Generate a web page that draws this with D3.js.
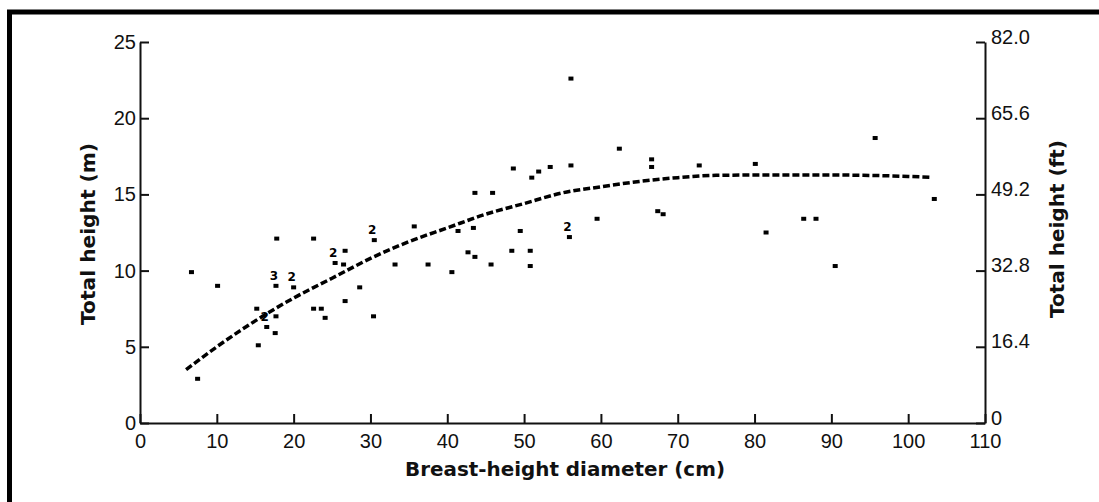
<!DOCTYPE html>
<html>
<head>
<meta charset="utf-8">
<script src="https://cdn.jsdelivr.net/npm/d3@7"></script>
<style>
  body { margin: 0; background: #fff; }
  svg { display: block; }
  .axis path, .axis line { stroke: #111; stroke-width: 2; }
  .axis text { font-family: "Liberation Sans", Arial, sans-serif; font-size: 20px; fill: #111; }
  .title { font-family: "DejaVu Sans", sans-serif; font-weight: bold; font-size: 19px; fill: #111; }
</style>
</head>
<body>
<svg width="1099" height="502"></svg>
<script>
'use strict';

// observed trees: diameter (cm), total height (m), number of trees at the spot
var diam = [6.7, 7.5, 10.1, 15.2, 15.4, 16.5, 17.6, 17.7, 17.7, 17.8,
            20.0, 22.6, 22.6, 23.6, 24.1, 25.4, 26.7, 26.5, 26.7, 28.6,
            30.4, 30.5, 33.2, 35.7, 37.5, 40.6, 41.4, 42.7, 43.6, 43.4,
            43.6, 45.9, 45.7, 48.4, 48.6, 49.5, 50.8, 50.8, 51.0, 51.9,
            53.4, 55.9, 56.1, 56.1, 59.5, 62.4, 66.6, 66.6, 67.4, 68.1,
            72.8, 80.1, 81.5, 86.4, 88.0, 90.5, 95.7, 103.4];
var height = [9.9, 2.9, 9.0, 7.5, 5.1, 6.3, 5.9, 7.0, 9.0, 12.1,
              8.9, 12.1, 7.5, 7.5, 6.9, 10.5, 11.3, 10.4, 8.0, 8.9,
              7.0, 12.0, 10.4, 12.9, 10.4, 9.9, 12.6, 11.2, 10.9, 12.8,
              15.1, 15.1, 10.4, 11.3, 16.7, 12.6, 11.3, 10.3, 16.1, 16.5,
              16.8, 12.2, 16.9, 22.6, 13.4, 18.0, 17.3, 16.8, 13.9, 13.7,
              16.9, 17.0, 12.5, 13.4, 13.4, 10.3, 18.7, 14.7];
var counts = [1, 1, 1, 1, 1, 2, 1, 1, 3, 1,
              2, 1, 1, 1, 1, 2, 1, 1, 1, 1,
              1, 2, 1, 1, 1, 1, 1, 1, 1, 1,
              1, 1, 1, 1, 1, 1, 1, 1, 1, 1,
              1, 2, 1, 1, 1, 1, 1, 1, 1, 1,
              1, 1, 1, 1, 1, 1, 1, 1];

// fitted height curve
var curveDiam = [6, 10, 15, 20, 25, 30, 35, 40, 45, 50, 55, 60, 65, 70, 75, 80, 90, 100, 103];
var curveHeight = [3.5, 5.0, 6.7, 8.2, 9.5, 10.8, 11.9, 12.8, 13.7, 14.4, 15.1, 15.5, 15.85, 16.1, 16.25, 16.27, 16.27, 16.18, 16.12];

var xTicks = [0, 10, 20, 30, 40, 50, 60, 70, 80, 90, 100, 110];
var yTicks = [0, 5, 10, 15, 20, 25];
var ftTicks = [0, 16.4, 32.8, 49.2, 65.6, 82.0];

var svg = d3.select("svg");

// frame (left and top edges show in the scan)
svg.append("path")
    .attr("d", "M9.5,502 V12 H1099")
    .attr("fill", "none")
    .attr("stroke", "#000")
    .attr("stroke-width", 5);

var x = d3.scaleLinear().domain([0, 110]).range([140, 985]);
var y = d3.scaleLinear().domain([0, 25]).range([423, 42]);
var yFt = d3.scaleLinear().domain([0, 82]).range([423, 42]);

svg.append("g")
    .attr("class", "axis")
    .attr("transform", "translate(0,423)")
    .call(d3.axisBottom(x).tickValues(xTicks).tickSizeInner(-9).tickSizeOuter(0).tickPadding(11));

svg.append("g")
    .attr("class", "axis")
    .attr("transform", "translate(140,0)")
    .call(d3.axisLeft(y).tickValues(yTicks).tickSizeInner(-9).tickSizeOuter(0).tickPadding(4));

svg.append("g")
    .attr("class", "axis")
    .attr("transform", "translate(985,0)")
    .call(d3.axisRight(yFt).tickValues(ftTicks).tickSizeInner(-9).tickSizeOuter(0).tickPadding(6)
      .tickFormat(function(d) { return d === 0 ? "0" : d3.format(".1f")(d); }))
  .selectAll("text")
    .attr("dy", "0.05em");

// curve
var line = d3.line()
    .x(function(d, i) { return x(curveDiam[i]); })
    .y(function(d) { return y(d); })
    .curve(d3.curveMonotoneX);

svg.append("path")
    .datum(curveHeight)
    .attr("d", line)
    .attr("fill", "none")
    .attr("stroke", "#000")
    .attr("stroke-width", 3.5)
    .attr("stroke-dasharray", "7,3");

// points
var pts = diam.map(function(d, i) { return {d: d, h: height[i], n: counts[i]}; });

svg.selectAll(".pt")
  .data(pts)
  .enter().append("rect")
    .attr("class", "pt")
    .attr("x", function(p) { return x(p.d) - 2.5; })
    .attr("y", function(p) { return y(p.h) - 2; })
    .attr("width", 5)
    .attr("height", 4)
    .attr("fill", "#000");

svg.selectAll(".cnt")
  .data(pts.filter(function(p) { return p.n > 1; }))
  .enter().append("text")
    .attr("class", "cnt")
    .attr("x", function(p) { return x(p.d) - 2; })
    .attr("y", function(p) { return y(p.h) - 6; })
    .attr("text-anchor", "middle")
    .style("font-family", "DejaVu Sans, sans-serif")
    .style("font-size", "12px")
    .style("font-weight", "bold")
    .text(function(p) { return p.n; });

// axis titles
svg.append("text")
    .attr("class", "title")
    .attr("x", 565)
    .attr("y", 476)
    .attr("text-anchor", "middle")
    .attr("textLength", 320)
    .attr("lengthAdjust", "spacingAndGlyphs")
    .text("Breast-height diameter (cm)");

svg.append("text")
    .attr("class", "title")
    .attr("transform", "translate(95,234) rotate(-90)")
    .attr("text-anchor", "middle")
    .attr("textLength", 182)
    .attr("lengthAdjust", "spacingAndGlyphs")
    .text("Total height (m)");

svg.append("text")
    .attr("class", "title")
    .attr("transform", "translate(1064,229) rotate(-90)")
    .attr("text-anchor", "middle")
    .attr("textLength", 178)
    .attr("lengthAdjust", "spacingAndGlyphs")
    .text("Total height (ft)");
</script>
</body>
</html>
